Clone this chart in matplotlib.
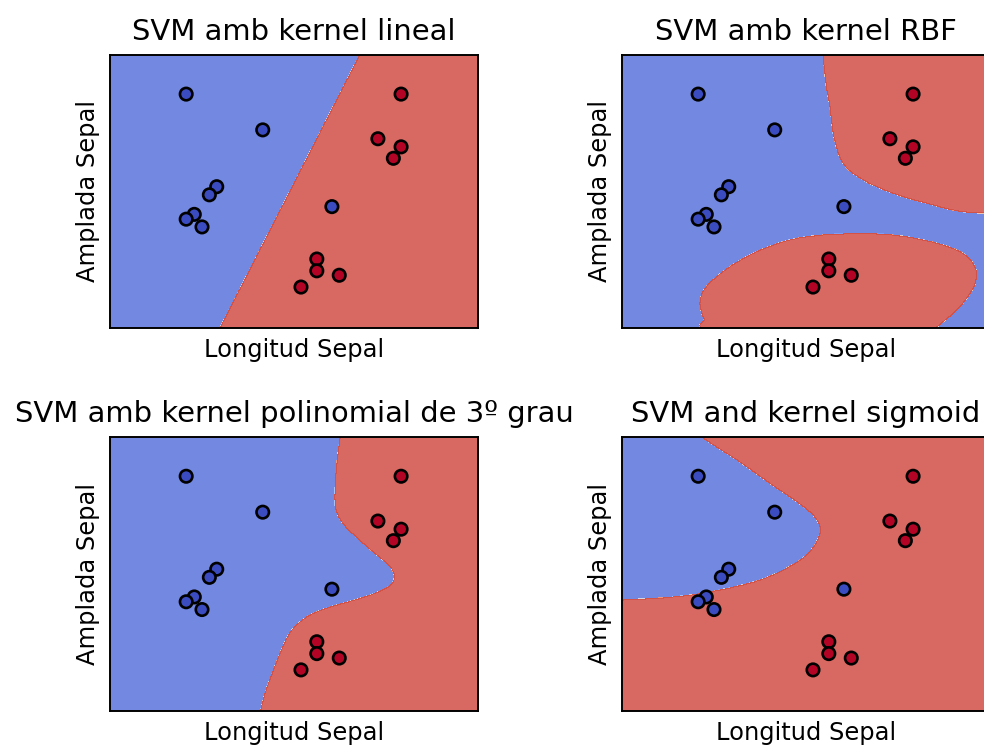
import numpy as np
import matplotlib
matplotlib.use("Agg")
import matplotlib.pyplot as plt
from matplotlib.path import Path

# ---- data (arbitrary units) ----
pts_x = [2.07, 4.15, 2.90, 2.70, 2.29, 2.07, 2.50, 6.03,
         7.91, 7.28, 7.91, 7.70, 5.62, 5.62, 6.23, 5.19]
pts_y = [6.34, 5.37, 3.83, 3.61, 3.08, 2.95, 2.74, 3.29,
         6.34, 5.13, 4.91, 4.60, 1.87, 1.55, 1.43, 1.11]
pts_class = [0, 0, 0, 0, 0, 0, 0, 0,
             1, 1, 1, 1, 1, 1, 1, 1]

titles = ["SVM amb kernel lineal", "SVM amb kernel RBF",
          "SVM amb kernel polinomial de 3º grau", "SVM and kernel sigmoid"]
xlabel = "Longitud Sepal"
ylabel = "Amplada Sepal"

# linear kernel boundary: x as function of y
lin_by = [-0.5, 7.9]
lin_bx = [2.73, 7.04]

# polynomial kernel boundary: x as function of y (ascending y)
poly_by = [-0.5, 0.0, 0.50, 1.00, 1.56, 2.05, 2.35, 2.60, 2.80, 3.00, 3.20, 3.40, 3.59,
           3.80, 3.99, 4.44, 4.98, 5.35, 5.70, 6.20, 6.69, 7.37, 7.9]
poly_bx = [3.98, 4.09, 4.22, 4.40, 4.62, 4.85, 5.10, 5.45, 5.95, 6.65, 7.25, 7.62, 7.72,
           7.68, 7.52, 6.98, 6.40, 6.17, 6.11, 6.13, 6.16, 6.25, 6.28]

# RBF kernel red regions (closed outlines, smoothed below)
rbf_up_x = [5.47, 5.50, 5.56, 5.65, 5.76, 6.01, 6.56, 7.37, 8.28, 9.27, 10.5, 11.0, 11.0, 5.45]
rbf_up_y = [7.40, 7.00, 6.50, 6.00, 5.18, 4.46, 4.01, 3.65, 3.38, 3.15, 3.10, 3.10, 8.0, 8.0]
rbf_lo_x = [2.40, 2.22, 2.12, 2.30, 2.93, 3.75, 4.75, 6.01, 7.37, 8.55, 9.27,
            9.59, 9.62, 9.46, 9.10, 8.55, 8.20, 5.50]
rbf_lo_y = [-0.1, 0.25, 0.70, 1.13, 1.66, 2.11, 2.43, 2.55, 2.52, 2.30, 2.02,
            1.66, 1.30, 0.94, 0.49, 0.02, -0.3, -0.8]

# sigmoid kernel blue region (closed outline)
sig_x = [-0.5, 0.04, 1.49, 2.66, 3.75, 4.55, 5.10, 5.38, 5.30, 4.93, 4.02, 3.12, 2.21, 1.70, -0.5]
sig_y = [2.98, 3.00, 3.09, 3.27, 3.54, 3.90, 4.30, 4.80, 5.15, 5.52, 6.15, 6.78, 7.37, 7.8, 7.8]

XLIM = (0, 10)
YLIM = (0, 7.4)


def smooth_closed(x, y, n=20):
    """Catmull-Rom interpolation through a closed outline."""
    P = np.column_stack([x, y])
    m = len(P)
    out = []
    for i in range(m):
        p0, p1, p2, p3 = P[(i - 1) % m], P[i], P[(i + 1) % m], P[(i + 2) % m]
        t = np.linspace(0, 1, n, endpoint=False)[:, None]
        out.append(0.5 * ((2 * p1) + (-p0 + p2) * t + (2 * p0 - 5 * p1 + 4 * p2 - p3) * t ** 2
                          + (-p0 + 3 * p1 - 3 * p2 + p3) * t ** 3))
    return np.vstack(out)


def smooth_open(x, y, n=20):
    P = np.column_stack([x, y])
    P = np.vstack([P[0], P, P[-1]])
    out = []
    for i in range(1, len(P) - 2):
        p0, p1, p2, p3 = P[i - 1], P[i], P[i + 1], P[i + 2]
        t = np.linspace(0, 1, n, endpoint=False)[:, None]
        out.append(0.5 * ((2 * p1) + (-p0 + p2) * t + (2 * p0 - 5 * p1 + 4 * p2 - p3) * t ** 2
                          + (-p0 + 3 * p1 - 3 * p2 + p3) * t ** 3))
    out.append(P[-2][None, :])
    return np.vstack(out)


# ---- styling ----
S = 1.74
plt.rcParams.update({
    "font.family": "DejaVu Sans",
    "axes.linewidth": 0.8 * S,
    "axes.titlepad": 6 * S,
    "axes.labelpad": 4 * S,
})

fig = plt.figure(figsize=(9.84, 7.46), dpi=100)
W, H = 984.0, 746.0
boxes = [(110, 55, 478, 328), (622, 55, 990, 328),
         (110, 437, 478, 711), (622, 437, 990, 711)]
axes = [fig.add_axes([l / W, 1 - b / H, (r - l) / W, (b - t) / H]) for (l, t, r, b) in boxes]

xx, yy = np.meshgrid(np.arange(XLIM[0], XLIM[1] + 0.01, 0.01),
                     np.arange(YLIM[0], YLIM[1] + 0.01, 0.01))
grid = np.column_stack([xx.ravel(), yy.ravel()])

Z_lin = (xx > np.interp(yy, lin_by, lin_bx)).astype(float)
pb = smooth_open(poly_bx, poly_by)
order = np.argsort(pb[:, 1])
Z_poly = (xx > np.interp(yy, pb[order, 1], pb[order, 0])).astype(float)
up = Path(smooth_closed(rbf_up_x, rbf_up_y)).contains_points(grid)
lo = Path(smooth_closed(rbf_lo_x, rbf_lo_y)).contains_points(grid)
Z_rbf = (up | lo).reshape(xx.shape).astype(float)
blue_sig = Path(smooth_closed(sig_x, sig_y)).contains_points(grid)
Z_sig = (~blue_sig).reshape(xx.shape).astype(float)

for ax, Z, title in zip(axes, [Z_lin, Z_rbf, Z_poly, Z_sig], titles):
    ax.contourf(xx, yy, Z, cmap=plt.cm.coolwarm, alpha=0.8)
    ax.scatter(pts_x, pts_y, c=pts_class, cmap=plt.cm.coolwarm, s=80,
               edgecolors="k", linewidths=1.9, zorder=3)
    ax.set_xlim(*XLIM)
    ax.set_ylim(*YLIM)
    ax.set_xticks([])
    ax.set_yticks([])
    ax.set_xlabel(xlabel, fontsize=10 * S)
    ax.set_ylabel(ylabel, fontsize=10 * S)
    ax.set_title(title, fontsize=12 * S)

fig.savefig("out.png", dpi=100)
